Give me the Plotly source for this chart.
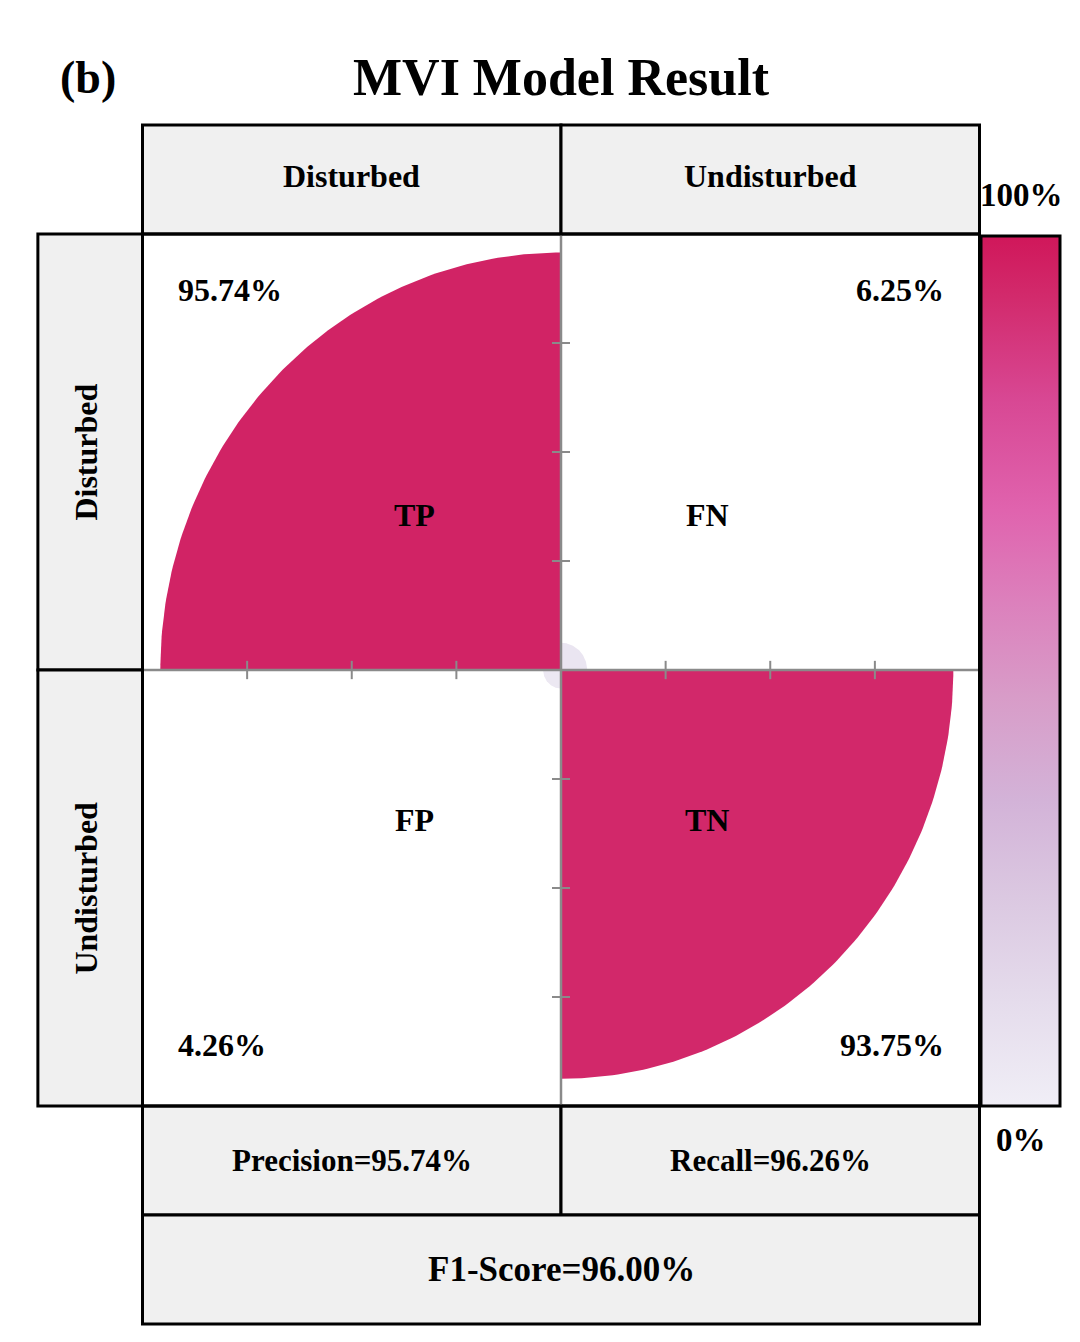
import numpy as np
import plotly.graph_objects as go

# data
classes = ["Disturbed", "Undisturbed"]
cell_tags = [["TP", "FN"], ["FP", "TN"]]
rates = [[95.74, 6.25], [4.26, 93.75]]
metric_names = ["Precision", "Recall", "F1-Score"]
metric_values = [95.74, 96.26, 96.00]

# colour scale sampled from the bar (0 -> 100%)
scale = [
    [0.00, "#f0eef6"], [0.12, "#e5dcec"], [0.24, "#dbc8e1"], [0.35, "#d3b3d8"],
    [0.47, "#d89cc8"], [0.58, "#dc80bc"], [0.685, "#e063ae"], [0.81, "#d84894"],
    [0.93, "#d22a6c"], [1.00, "#d0175a"],
]


def pick_color(v):
    f = v / 100.0
    for (a, ca), (b, cb) in zip(scale[:-1], scale[1:]):
        if a <= f <= b:
            t = (f - a) / (b - a)
            c1 = [int(ca[k:k + 2], 16) for k in (1, 3, 5)]
            c2 = [int(cb[k:k + 2], 16) for k in (1, 3, 5)]
            c = [round(p + (q - p) * t) for p, q in zip(c1, c2)]
            return f"rgb({c[0]},{c[1]},{c[2]})"
    return scale[-1][1]


FONT = "Liberation Serif"
GRID = "#8a8a8a"
HEAD = "#f0f0f0"
W, H = 1072, 1334  # page adds an 8px body margin

fig = go.Figure()

# quarter circles, radius = rate (1 = full cell)
t = np.linspace(0, np.pi / 2, 120)
for i in range(2):
    for j in range(2):
        r = rates[i][j] / 100.0
        sx = -1 if j == 0 else 1
        sy = 1 if i == 0 else -1
        xs = np.concatenate([[0], sx * r * np.cos(t), [0]])
        ys = np.concatenate([[0], sy * r * np.sin(t), [0]])
        fig.add_trace(go.Scatter(
            x=xs, y=ys, mode="lines", fill="toself",
            fillcolor=pick_color(rates[i][j]), line=dict(width=0),
            hoverinfo="skip", showlegend=False,
        ))

# colour bar
fig.add_trace(go.Scatter(
    x=[0, 0], y=[0, 0], mode="markers",
    marker=dict(
        color=[0, 100], cmin=0, cmax=100, colorscale=scale, opacity=0, size=1,
        showscale=True,
        colorbar=dict(
            x=973 / W, xanchor="left", y=1 - 663 / H, yanchor="middle",
            len=870 / H, thickness=79, xpad=0, ypad=0,
            outlinewidth=3, outlinecolor="black",
            showticklabels=False, ticks="",
        ),
    ),
    hoverinfo="skip", showlegend=False,
))

shapes = []
box = dict(type="rect", xref="x", yref="y", line=dict(color="black", width=3), layer="below")
# header boxes
for x0, x1, y0, y1 in [(-1, 0, 1, 1.25), (0, 1, 1, 1.25),
                       (-1.25, -1, 0, 1), (-1.25, -1, -1, 0),
                       (-1, 0, -1.25, -1), (0, 1, -1.25, -1),
                       (-1, 1, -1.5, -1.25)]:
    shapes.append(dict(box, x0=x0, x1=x1, y0=y0, y1=y1, fillcolor=HEAD))
# centre axes with ticks
shapes.append(dict(type="line", xref="x", yref="y", x0=-1, x1=1, y0=0, y1=0,
                   line=dict(color=GRID, width=2.5), layer="above"))
shapes.append(dict(type="line", xref="x", yref="y", x0=0, x1=0, y0=-1, y1=1,
                   line=dict(color=GRID, width=2.5), layer="above"))
for k in [-0.75, -0.5, -0.25, 0.25, 0.5, 0.75]:
    shapes.append(dict(type="line", xref="x", yref="y", x0=k, x1=k, y0=-0.021, y1=0.021,
                       line=dict(color=GRID, width=2), layer="above"))
    shapes.append(dict(type="line", xref="x", yref="y", x0=-0.0215, x1=0.0215, y0=k, y1=k,
                       line=dict(color=GRID, width=2), layer="above"))
# main frame
shapes.append(dict(type="rect", xref="x", yref="y", x0=-1, x1=1, y0=-1, y1=1,
                   line=dict(color="black", width=3), layer="above"))

ann = []


def txt(x, y, s, size=32, **kw):
    ann.append(dict(x=x, y=y, xref="x", yref="y", text=s, showarrow=False,
                    font=dict(family=FONT, size=size, color="black"), **kw))


txt(0, 1.36, "<b>MVI Model Result</b>", size=52)
txt(-1.13, 1.358, "<b>(b)</b>", size=46)
for j, c in enumerate(classes):
    txt(-0.5 + j, 1.133, f"<b>{c}</b>")
    txt(-1.136, 0.5 - j, f"<b>{c}</b>", textangle=-90)

for i in range(2):
    for j in range(2):
        sx = -1 if j == 0 else 1
        sy = 1 if i == 0 else -1
        txt(0.35 * sx, 0.355 if i == 0 else -0.345, f"<b>{cell_tags[i][j]}</b>")
        vy = 0.872 if i == 0 else -0.86
        if j == 0:
            txt(-0.921, vy, f"<b>{rates[i][j]:.2f}%</b>", xanchor="left")
        else:
            txt(0.921, vy, f"<b>{rates[i][j]:.2f}%</b>", xanchor="right")

txt(-0.5, -1.125, f"<b>{metric_names[0]}={metric_values[0]:.2f}%</b>", size=31)
txt(0.5, -1.125, f"<b>{metric_names[1]}={metric_values[1]:.2f}%</b>", size=31)
txt(0, -1.375, f"<b>{metric_names[2]}={metric_values[2]:.2f}%</b>", size=35)
txt(1.1, 1.089, "<b>100%</b>", size=33)
txt(1.1, -1.078, "<b>0%</b>", size=33)

fig.update_layout(
    width=W, height=H,
    margin=dict(l=0, r=0, t=0, b=0),
    paper_bgcolor="white", plot_bgcolor="white",
    shapes=shapes, annotations=ann,
    xaxis=dict(range=[-553 / 418.5, 519 / 418.5], visible=False, fixedrange=True),
    yaxis=dict(range=[-672 / 436, 662 / 436], visible=False, fixedrange=True),
)

fig.write_html("out.html")
